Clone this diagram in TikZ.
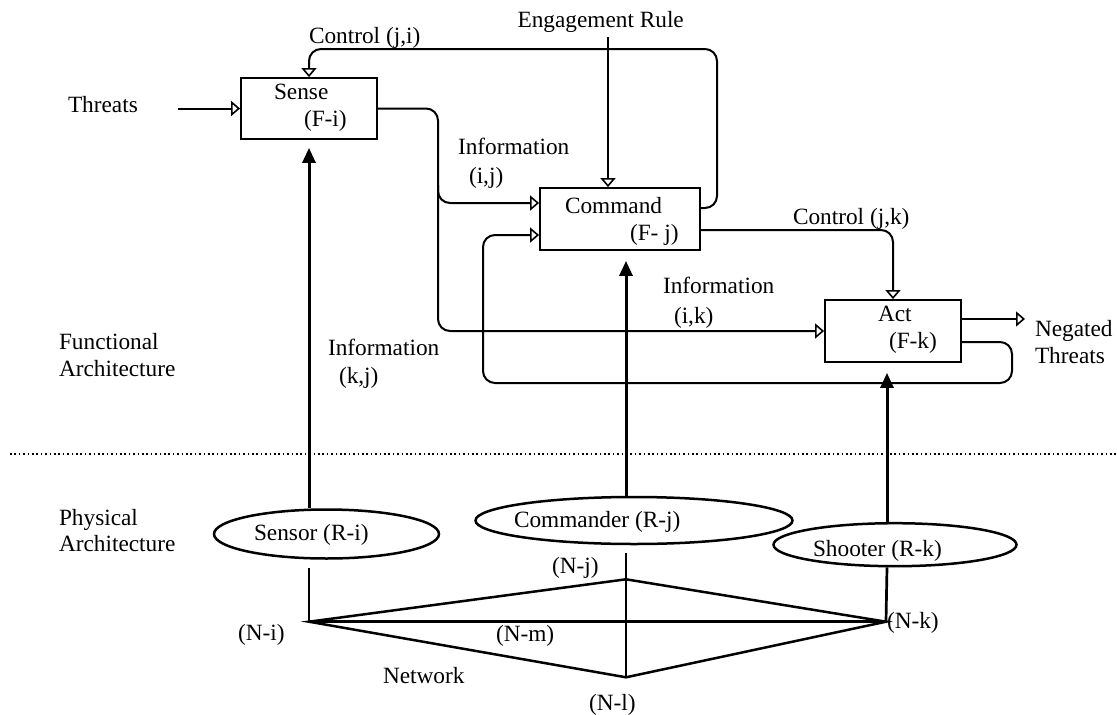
\documentclass[tikz,border=0pt]{standalone}
\usepackage{fontspec}
\setmainfont{Liberation Serif}
\usetikzlibrary{arrows.meta,shapes.geometric,calc}
\begin{document}
\begin{tikzpicture}[x=1pt,y=-1pt,
  font=\fontsize{23.3}{28}\selectfont,
  txt/.style={anchor=base west, inner sep=0pt, outer sep=0pt},
  fbox/.style={draw, line width=1.8pt, inner sep=0pt},
  res/.style={draw, ellipse, line width=2.5pt, inner sep=0pt},
  conn/.style={line width=2pt, rounded corners=12pt},
  oarr/.style={-{Triangle[open,length=9pt,width=15pt,line width=1.6pt]}},
  farr/.style={line width=3pt, -{Triangle[length=15pt,width=13pt]}},
  netl/.style={line width=2.5pt, line join=miter},
  low/.style={line width=2.7pt},
]
\useasboundingbox (0,0) rectangle (1117,715);

% functional boxes
\node[fbox, minimum width=136pt, minimum height=61pt] (sense) at (309,108.5) {};
\node[fbox, minimum width=160pt, minimum height=62pt] (command) at (620,219) {};
\node[fbox, minimum width=136pt, minimum height=62pt] (act) at (893,331) {};

% physical resources
\node[res, minimum width=225pt, minimum height=49pt] (sensor) at (326.5,534) {};
\node[res, minimum width=317pt, minimum height=47pt] (commander) at (634,520.5) {};
\node[res, minimum width=243pt, minimum height=43pt] (shooter) at (895,544.7) {};

% coordinates
\coordinate (ni) at (309,621.7);
\coordinate (nj) at (626,579.3);
\coordinate (nk) at (886,621.7);
\coordinate (nl) at (626,677.3);
\coordinate (threatsrc) at (178,108.5);
\coordinate (engsrc) at (608,37);
\coordinate (negout) at (1025,319);
\coordinate (branch) at (438,185);
\coordinate (dotl) at (10,454);
\coordinate (dotr) at (1117,454);
\coordinate (cmdin) at ([xshift=6pt]command.south);
\coordinate (actin) at ([xshift=-6pt]act.south);

% dotted separator
\draw[line width=1.6pt, dash pattern=on 1.6pt off 2.8pt] (dotl) -- (dotr);

% functional connectors
\draw[line width=2pt, oarr] (threatsrc) -- (sense.west);
\draw[conn, oarr] (sense.east) -- (438,108.5) -- (438,331) -- (act.west);
\draw[conn, oarr] (branch) -- (438,203) -- ([yshift=16pt]command.west);
\draw[conn, oarr] ([yshift=11pt]command.east) -- (717,208) -- (717,49) -- (309,49) -- (sense.north);
\draw[line width=2pt, oarr] (engsrc) -- ([xshift=-12pt]command.north);
\draw[conn, oarr] ([yshift=-11pt]command.east) -- (893,230) -- (act.north);
\draw[line width=2pt, oarr] ([yshift=12pt]act.east) -- (negout);
\draw[conn, oarr] ([yshift=-11pt]act.east) -- (1012,342) -- (1012,383) -- (483,383) -- (483,235) -- ([yshift=-16pt]command.west);

% allocation arrows
\draw[farr, shorten >=8pt] (sense.south |- sensor.north) -- (sense.south);
\draw[farr, shorten >=10pt] (cmdin |- commander.north) -- (cmdin);
\draw[farr, shorten >=10pt] (actin |- shooter.north) -- (actin);

% links to network
\draw[low, shorten <=8pt] (sense.south |- sensor.south) -- (ni);
\draw[low, shorten <=8pt] (cmdin |- commander.south) -- (nl);
\draw[low] (actin |- shooter.south) -- (nk);

% network
\draw[netl] (ni) -- (nj) -- (nk) -- (nl) -- cycle;
\draw[netl] (ni) -- (nk);

% texts
\node[txt] (tthreats) at (68,112) {Threats};
\node[txt] (tcji) at (309,43) {Control (j,i)};
\node[anchor=base east, inner sep=0pt] (teng) at (684,27) {Engagement Rule};
\node[txt] (tsense) at (274,99.3) {Sense};
\node[txt] (tfi) at (304,126.7) {(F-i)};
\node[txt] (tinfoij) at (458,154) {Information};
\node[txt] (tij) at (469,183) {(i,j)};
\node[txt] (tcommand) at (565,213) {Command};
\node[txt] (tfj) at (630,240) {(F- j)};
\node[txt] (tcjk) at (793,224) {Control (j,k)};
\node[txt] (tinfoik) at (663,293) {Information};
\node[txt] (tik) at (674,323) {(i,k)};
\node[txt] (tact) at (878,321.7) {Act};
\node[txt] (tfk) at (889,348) {(F-k)};
\node[txt] (tneg) at (1035,336.7) {Negated};
\node[txt] (tnegthr) at (1035,363.3) {Threats};
\node[txt] (tfunc) at (59,349) {Functional};
\node[txt] (tfuncarch) at (59,376) {Architecture};
\node[txt] (tinfokj) at (328,355) {Information};
\node[txt] (tkj) at (339,383) {(k,j)};
\node[txt] (tphys) at (59,525) {Physical};
\node[txt] (tphysarch) at (59,551) {Architecture};
\node[txt] (tsensor) at (254,540) {Sensor (R-i)};
\node[txt] (tcommander) at (514,527) {Commander (R-j)};
\node[txt] (tshooter) at (813,556.7) {Shooter (R-k)};
\node[txt] (tnj) at (552,573) {(N-j)};
\node[txt] (tni) at (238,640) {(N-i)};
\node[txt] (tnm) at (496,641.7) {(N-m)};
\node[txt] (tnk) at (887,628) {(N-k)};
\node[txt] (tnet) at (383,683) {Network};
\node[txt] (tnl) at (589,710) {(N-l)};
\end{tikzpicture}
\end{document}
